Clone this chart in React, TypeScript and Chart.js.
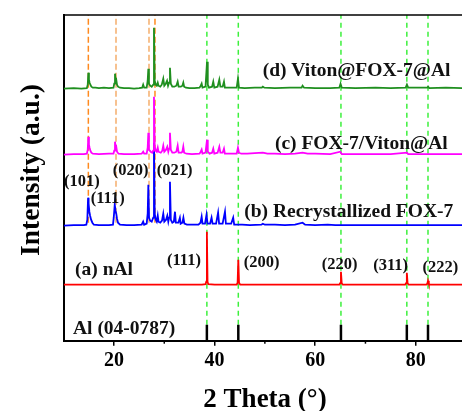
import React, { useEffect, useRef } from "react";
import { Chart, registerables } from "chart.js";

Chart.register(...registerables);

// ---------- data (2θ in degrees, intensity in a.u., relative to each trace baseline) ----------
const traceD_Viton_FOX7_Al: [number, number][] = [
  [10, 0], [12, 0.5], [13.5, 0], [14.6, 0.5], [14.78, 4], [14.9, 16], [15.02, 9], [15.15, 6], [15.3, 4], [15.5, 2], [15.8, 1],
  [16.3, 1], [17, 0.5], [18, 1], [19, 0.5], [19.9, 1], [20.05, 5], [20.2, 15], [20.32, 8], [20.45, 9], [20.6, 4], [20.8, 2],
  [21.2, 1], [22, 0.5], [23, 0.5], [24, 0], [25, 0.5], [25.6, 1], [25.8, 4], [26.0, 1], [26.5, 1], [26.7, 8], [26.83, 20],
  [26.95, 5], [27.2, 3], [27.5, 2], [27.8, 4], [27.95, 61], [28.1, 8], [28.3, 4], [28.5, 3], [28.7, 6], [28.85, 3], [29.2, 2],
  [29.5, 4], [29.8, 10], [30.0, 3], [30.3, 5], [30.55, 8], [30.75, 3], [30.95, 6], [31.13, 21], [31.3, 5], [31.6, 2], [32.0, 2],
  [32.4, 3], [32.66, 7], [32.85, 2], [33.3, 2], [33.6, 3], [33.78, 6], [33.95, 2], [34.3, 1], [35, 0.5], [36, 0.5], [37, 1],
  [37.25, 3], [37.43, 5], [37.6, 1], [38.2, 2], [38.5, 27], [38.65, 4], [38.9, 1], [39.5, 2], [39.74, 7], [39.95, 1], [40.6, 2],
  [40.94, 9], [41.15, 2], [41.6, 2], [41.87, 7], [42.05, 1], [42.5, 1], [43.5, 1], [44.4, 1], [44.65, 10], [44.85, 1], [46, 0.5],
  [48, 1], [49.4, 1], [49.6, 2], [49.9, 1], [52, 0.5], [55, 1], [57.3, 1], [57.5, 3], [57.8, 1], [60, 0.5], [63, 0.5], [64.8, 1],
  [65.05, 5], [65.3, 1], [68, 0.5], [72, 1], [75, 0.5], [78.0, 1], [78.25, 4], [78.5, 1], [82.3, 1], [82.45, 2], [82.7, 0.5],
  [86, 1], [89.2, 0.5],
];

const traceC_FOX7_Viton_Al: [number, number][] = [
  [10, 0], [12, 0.5], [14, 0.5], [14.6, 1], [14.78, 5], [14.9, 18], [15.02, 10], [15.15, 7], [15.3, 4], [15.5, 2], [15.8, 1],
  [17, 0.5], [19, 1], [19.9, 1], [20.05, 4], [20.2, 13], [20.32, 7], [20.45, 8], [20.6, 3], [20.9, 1], [22, 0.5], [24, 0.5],
  [25.5, 1], [25.8, 3], [26.0, 1], [26.5, 1], [26.7, 7], [26.83, 22], [26.95, 5], [27.3, 3], [27.6, 2], [27.8, 4], [27.95, 58],
  [28.1, 8], [28.3, 4], [28.5, 3], [28.7, 7], [28.85, 3], [29.3, 2], [29.6, 4], [29.8, 9], [30.0, 3], [30.35, 5], [30.6, 8],
  [30.8, 3], [30.95, 6], [31.13, 22], [31.3, 5], [31.6, 2], [32.0, 2], [32.4, 3], [32.66, 9], [32.85, 2], [33.4, 2], [33.6, 3],
  [33.78, 8], [33.95, 2], [34.4, 1], [35.5, 0.5], [37, 1], [37.25, 3], [37.43, 5], [37.6, 1], [38.2, 2], [38.5, 15], [38.65, 3],
  [39.0, 1], [39.5, 2], [39.74, 6], [39.95, 1], [40.6, 2], [40.94, 8], [41.15, 2], [41.6, 2], [41.87, 6], [42.05, 1], [42.6, 1],
  [43.6, 1], [44.4, 1], [44.65, 7], [44.85, 2], [45.3, 1], [46.5, 1], [48, 1.5], [49.6, 2], [50.5, 1], [52, 1], [54, 0.5],
  [56, 1], [57.5, 2], [58.5, 1], [60, 1], [63, 0.5], [65.0, 3], [65.3, 0.5], [70, 0.5], [75, 0.5], [78.25, 2], [78.5, 0.5],
  [82, 0.5], [86, 0.5], [89.2, 0.5],
];

const traceB_RecrystFOX7: [number, number][] = [
  [10, 0], [12, 0.5], [14, 0.5], [14.5, 1], [14.7, 6], [14.85, 28], [14.95, 22], [15.1, 14], [15.25, 10], [15.45, 6], [15.7, 3],
  [16, 1], [17, 0.5], [19, 0.5], [19.8, 1], [19.95, 8], [20.15, 21], [20.3, 15], [20.45, 12], [20.6, 7], [20.8, 3], [21.2, 1],
  [22.5, 0.5], [24, 0.5], [25.5, 1], [25.8, 4], [26.0, 1], [26.5, 2], [26.7, 12], [26.83, 41], [26.97, 8], [27.2, 5], [27.5, 4],
  [27.8, 8], [27.95, 83], [28.1, 12], [28.3, 6], [28.5, 4], [28.7, 10], [28.85, 4], [29.2, 3], [29.55, 5], [29.8, 12], [30.0, 4],
  [30.35, 6], [30.6, 10], [30.8, 4], [30.95, 8], [31.13, 44], [31.3, 6], [31.6, 3], [31.9, 4], [32.13, 14], [32.3, 3], [32.8, 3],
  [33.1, 8], [33.25, 2], [33.6, 3], [33.8, 8], [34.0, 2], [34.5, 1], [35.5, 1], [36.8, 1], [37.2, 3], [37.43, 9], [37.6, 2],
  [38.1, 2], [38.4, 11], [38.6, 2], [39.1, 2], [39.4, 8], [39.6, 2], [40.3, 2], [40.7, 13], [40.9, 2], [41.6, 2], [42.07, 14],
  [42.25, 2], [43.3, 2], [43.7, 8], [43.9, 1], [44.5, 1], [45.5, 1], [47, 0.5], [49.3, 1], [49.6, 2], [50, 1], [52, 1],
  [54, 0.5], [56, 1], [57.5, 3], [58, 1], [60, 0.5], [62.5, 1], [64, 0.5], [70, 0.5], [75, 0.5], [80, 0.5], [85, 0.5], [89.2, 0.5],
];

const traceA_nAl: [number, number][] = [
  [10, 0], [20, 0], [30, 0], [37.5, 0], [38.2, 0.5], [38.35, 3], [38.47, 53], [38.6, 3], [38.75, 0.5], [40, 0], [44.4, 0],
  [44.58, 2], [44.72, 25], [44.86, 2], [45.1, 0], [55, 0], [64.8, 0], [64.98, 1.5], [65.13, 13], [65.28, 1.5], [65.5, 0],
  [77.9, 0], [78.08, 1.5], [78.23, 12], [78.38, 1.5], [78.6, 0], [82.1, 0], [82.3, 1], [82.44, 4], [82.6, 1], [82.8, 0], [89.2, 0],
];

// vertical stacking offsets of each pattern (a.u.)
const offsetD = 252;
const offsetC = 186;
const offsetB = 115;
const offsetA = 56;

// Al reference pattern (PDF 04-0787)
const alRefPositions = [38.47, 44.72, 65.13, 78.23, 82.44];
const alRefIntensity = [16, 16, 16, 16, 16];

// guide lines
const fox7GuidePositionsStrong = [14.9, 28.15];
const fox7GuidePositionsLight = [20.4, 26.96];
const fox7GuideBottom = 118;
const alGuideBottom = 16;

// axes
const xMin = 10;
const xMax = 89.2;
const yMin = 0;
const yMax = 325.7;
const xMajorTicks = [20, 40, 60, 80];
const xMinorTicks = [30, 50, 70];

// labels
const labelTexts = [
  "(d) Viton@FOX-7@Al",
  "(c) FOX-7/Viton@Al",
  "(b) Recrystallized FOX-7",
  "(a) nAl",
  "Al (04-0787)",
];
const hklTexts = ["(101)", "(111)", "(020)", "(021)", "(111)", "(200)", "(220)", "(311)", "(222)"];

// ---------- layout / styling ----------
const FONT = '"Liberation Serif", "Times New Roman", serif';
const labelPlacement = [
  { x: 49.56, y: 269.7 },
  { x: 52.0, y: 196.7 },
  { x: 45.9, y: 128.7 },
  { x: 12.25, y: 70.7 },
  { x: 11.85, y: 11.7 },
];
const hklPlacement = [
  { x: 10.06, y: 158.7 },
  { x: 15.37, y: 141.7 },
  { x: 19.74, y: 169.7 },
  { x: 28.49, y: 170.0 },
  { x: 30.54, y: 79.7 },
  { x: 45.79, y: 78.4 },
  { x: 61.29, y: 75.7 },
  { x: 71.55, y: 74.7 },
  { x: 81.37, y: 73.4 },
];

function shifted(trace: [number, number][], offset: number) {
  return trace.map(([x, y]) => ({ x, y: y + offset }));
}

function verticalSegments(xs: number[], bottoms: number[], tops: number[]) {
  const pts: { x: number; y: number | null }[] = [];
  xs.forEach((x, i) => {
    pts.push({ x, y: bottoms[i] });
    pts.push({ x, y: tops[i] });
    pts.push({ x, y: null });
  });
  return pts;
}

const overlayPlugin = {
  id: "overlay",
  afterDraw(chart: any) {
    const { ctx, chartArea, scales } = chart;
    const xs = scales.x;
    const ys = scales.y;
    ctx.save();
    // top frame line
    ctx.strokeStyle = "#000";
    ctx.lineWidth = 1.5;
    ctx.beginPath();
    ctx.moveTo(chartArea.left, chartArea.top);
    ctx.lineTo(chartArea.right + 2, chartArea.top);
    ctx.stroke();
    // minor ticks
    for (const v of xMinorTicks) {
      const px = xs.getPixelForValue(v);
      ctx.beginPath();
      ctx.moveTo(px, chartArea.bottom);
      ctx.lineTo(px, chartArea.bottom + 3);
      ctx.stroke();
    }
    ctx.fillStyle = "#111";
    ctx.textAlign = "left";
    ctx.textBaseline = "middle";
    ctx.font = `bold 19.5px ${FONT}`;
    labelTexts.forEach((t, i) => {
      const p = labelPlacement[i];
      ctx.fillText(t, xs.getPixelForValue(p.x), ys.getPixelForValue(p.y));
    });
    ctx.font = `bold 16.5px ${FONT}`;
    hklTexts.forEach((t, i) => {
      const p = hklPlacement[i];
      ctx.fillText(t, xs.getPixelForValue(p.x), ys.getPixelForValue(p.y));
    });
    // axis titles
    ctx.fillStyle = "#000";
    ctx.textAlign = "center";
    ctx.font = `bold 27px ${FONT}`;
    ctx.fillText("2 Theta (\u00B0)", 265, 400);
    ctx.save();
    ctx.translate(32, 170);
    ctx.rotate(-Math.PI / 2);
    ctx.font = `bold 27.5px ${FONT}`;
    ctx.fillText("Intensity (a.u.)", 0, 0);
    ctx.restore();
    ctx.restore();
  },
};

export default function App() {
  const ref = useRef<HTMLCanvasElement>(null);

  useEffect(() => {
    if (!ref.current) return;
    const traceStyle = (color: string) => ({
      borderColor: color,
      borderWidth: 1.8,
      pointRadius: 0,
      tension: 0,
      fill: false,
    });
    const guideStyle = (color: string, dash: number[]) => ({
      borderColor: color,
      borderWidth: 1.5,
      borderDash: dash,
      pointRadius: 0,
      spanGaps: false,
      order: 2,
    });
    const chart = new Chart(ref.current, {
      type: "line",
      data: {
        datasets: [
          { label: "(d)", data: shifted(traceD_Viton_FOX7_Al, offsetD), ...traceStyle("#1f8f1f"), order: 1 },
          { label: "(c)", data: shifted(traceC_FOX7_Viton_Al, offsetC), ...traceStyle("#ff00ff"), order: 1 },
          { label: "(b)", data: shifted(traceB_RecrystFOX7, offsetB), ...traceStyle("#0000ff"), order: 1 },
          { label: "(a)", data: shifted(traceA_nAl, offsetA), ...traceStyle("#ff0000"), order: 1 },
          {
            label: "Al ref",
            data: verticalSegments(alRefPositions, alRefPositions.map(() => 0), alRefIntensity),
            borderColor: "#000",
            borderWidth: 2.5,
            pointRadius: 0,
            spanGaps: false,
            order: 1,
          },
          {
            label: "Al guides",
            data: verticalSegments(alRefPositions, alRefPositions.map(() => alGuideBottom), alRefPositions.map(() => yMax)),
            ...guideStyle("#3cf03c", [5, 4]),
          },
          {
            label: "FOX-7 guides",
            data: verticalSegments(
              fox7GuidePositionsStrong,
              fox7GuidePositionsStrong.map(() => fox7GuideBottom),
              fox7GuidePositionsStrong.map(() => yMax)
            ),
            ...guideStyle("#ff8a1f", [6, 3]),
          },
          {
            label: "FOX-7 guides (light)",
            data: verticalSegments(
              fox7GuidePositionsLight,
              fox7GuidePositionsLight.map(() => fox7GuideBottom),
              fox7GuidePositionsLight.map(() => yMax)
            ),
            ...guideStyle("#f5ad6a", [6, 3]),
          },
        ] as any,
      },
      options: {
        animation: false,
        responsive: true,
        maintainAspectRatio: false,
        layout: { padding: { left: 0, top: 15, right: 0, bottom: 0 } },
        plugins: { legend: { display: false }, tooltip: { enabled: false } },
        scales: {
          x: {
            type: "linear",
            min: xMin,
            max: xMax,
            afterFit: (s: any) => {
              s.height = 70.3;
            },
            afterBuildTicks: (s: any) => {
              s.ticks = xMajorTicks.map((v) => ({ value: v }));
            },
            grid: {
              display: true,
              drawOnChartArea: false,
              drawTicks: true,
              tickLength: 5,
              color: "#000",
              lineWidth: 1.5,
            },
            border: { display: true, color: "#000", width: 2 },
            ticks: {
              color: "#000",
              font: { family: FONT, size: 20, weight: "bold" },
              padding: 3,
              maxRotation: 0,
              autoSkip: false,
            },
          },
          y: {
            type: "linear",
            min: yMin,
            max: yMax,
            afterFit: (s: any) => {
              s.width = 63.7;
            },
            grid: { display: false, drawTicks: false },
            border: { display: true, color: "#000", width: 2 },
            ticks: { display: false },
          },
        },
      } as any,
      plugins: [overlayPlugin],
    });
    return () => chart.destroy();
  }, []);

  return (
    <div style={{ position: "absolute", left: 0, top: 0, width: 462, height: 411, background: "#fff" }}>
      <canvas ref={ref} />
    </div>
  );
}
